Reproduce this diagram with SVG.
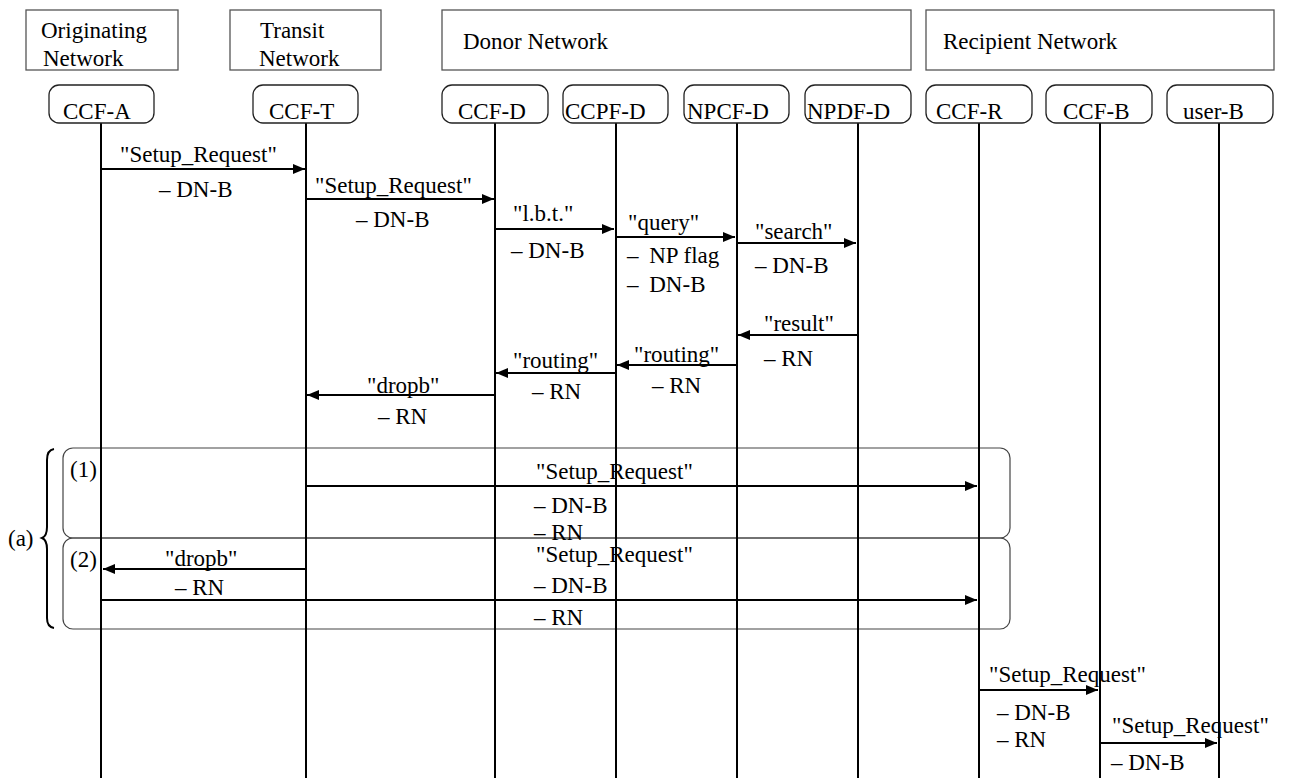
<svg xmlns="http://www.w3.org/2000/svg" width="1291" height="778" viewBox="0 0 1291 778">
<defs>
<marker id="ah" markerUnits="userSpaceOnUse" markerWidth="13" markerHeight="11" refX="12" refY="5" orient="auto"><path d="M0,0 L12,5 L0,10 z" fill="#000"/></marker>
</defs>
<style>
text{font-family:"Liberation Serif","Times New Roman",serif;font-size:23px;fill:#000}
.hdr{fill:#fff;stroke:#555;stroke-width:1.3}
.ll{fill:#fff;stroke:#222;stroke-width:1.3}
.life{stroke:#000;stroke-width:2}
.msg{stroke:#000;stroke-width:2;fill:none;marker-end:url(#ah)}
.alt{fill:none;stroke:#444;stroke-width:1.2}
</style>
<rect width="1291" height="778" fill="#fff"/>

<g id="hdr-originating"><rect class="hdr" x="26" y="10" width="152" height="60"/><text x="41" y="38">Originating</text><text x="43" y="66">Network</text></g>
<g id="hdr-transit"><rect class="hdr" x="230" y="10" width="151" height="60"/><text x="260" y="38">Transit</text><text x="259" y="66">Network</text></g>
<g id="hdr-donor"><rect class="hdr" x="442" y="10" width="469" height="60"/><text x="463" y="49">Donor Network</text></g>
<g id="hdr-recipient"><rect class="hdr" x="926" y="10" width="348" height="60"/><text x="943" y="49">Recipient Network</text></g>

<g id="alt-frames">
<rect class="alt" x="63" y="448" width="947" height="90" rx="10"/>
<rect class="alt" x="63" y="538" width="947" height="91" rx="10"/>
<path d="M54,449 Q47,450 47,460 L47,527 Q47,536 42,538 Q47,540 47,549 L47,618 Q47,627 54,628" fill="none" stroke="#000" stroke-width="2"/>
<text x="8" y="546">(a)</text>
<text x="70" y="477">(1)</text>
<text x="70" y="567">(2)</text>
</g>

<g id="CCF-A"><line class="life" x1="101" y1="123" x2="101" y2="778"/><rect class="ll" x="49" y="85" width="105" height="38" rx="10"/><text x="63" y="119">CCF-A</text></g>
<g id="CCF-T"><line class="life" x1="306" y1="123" x2="306" y2="778"/><rect class="ll" x="253" y="85" width="105" height="38" rx="10"/><text x="269" y="119">CCF-T</text></g>
<g id="CCF-D"><line class="life" x1="495" y1="123" x2="495" y2="778"/><rect class="ll" x="442" y="85" width="106" height="38" rx="10"/><text x="458" y="119">CCF-D</text></g>
<g id="CCPF-D"><line class="life" x1="616" y1="123" x2="616" y2="778"/><rect class="ll" x="563" y="85" width="105" height="38" rx="10"/><text x="565" y="119">CCPF-D</text></g>
<g id="NPCF-D"><line class="life" x1="737" y1="123" x2="737" y2="778"/><rect class="ll" x="684" y="85" width="105" height="38" rx="10"/><text x="687" y="119">NPCF-D</text></g>
<g id="NPDF-D"><line class="life" x1="858" y1="123" x2="858" y2="778"/><rect class="ll" x="805" y="85" width="106" height="38" rx="10"/><text x="807" y="119">NPDF-D</text></g>
<g id="CCF-R"><line class="life" x1="979" y1="123" x2="979" y2="778"/><rect class="ll" x="926" y="85" width="106" height="38" rx="10"/><text x="936" y="119">CCF-R</text></g>
<g id="CCF-B"><line class="life" x1="1100" y1="123" x2="1100" y2="778"/><rect class="ll" x="1046" y="85" width="106" height="38" rx="10"/><text x="1063" y="119">CCF-B</text></g>
<g id="user-B"><line class="life" x1="1219" y1="123" x2="1219" y2="778"/><rect class="ll" x="1167" y="85" width="106" height="38" rx="10"/><text x="1183" y="119">user-B</text></g>

<g id="connectors">
<line class="msg" x1="101" y1="169" x2="305" y2="169"/>
<line class="msg" x1="306" y1="199" x2="494" y2="199"/>
<line class="msg" x1="495" y1="229" x2="614" y2="229"/>
<line class="msg" x1="616" y1="237" x2="735" y2="237"/>
<line class="msg" x1="737" y1="243" x2="856" y2="243"/>
<line class="msg" x1="858" y1="335" x2="738" y2="335"/>
<line class="msg" x1="737" y1="365" x2="617" y2="365"/>
<line class="msg" x1="616" y1="373" x2="496" y2="373"/>
<line class="msg" x1="495" y1="395" x2="307" y2="395"/>
<line class="msg" x1="306" y1="486" x2="977" y2="486"/>
<line class="msg" x1="306" y1="569" x2="103" y2="569"/>
<line class="msg" x1="101" y1="600" x2="977" y2="600"/>
<line class="msg" x1="979" y1="690" x2="1098" y2="690"/>
<line class="msg" x1="1100" y1="743" x2="1217" y2="743"/>
</g>

<g id="labels">
<text x="120" y="162">"Setup_Request"</text>
<text x="159" y="197">– DN-B</text>
<text x="315" y="193">"Setup_Request"</text>
<text x="356" y="227">– DN-B</text>
<text x="513" y="221">"l.b.t."</text>
<text x="511" y="258">– DN-B</text>
<text x="628" y="230">"query"</text>
<text x="627" y="263">– <tspan dx="5">NP flag</tspan></text>
<text x="627" y="292">– <tspan dx="5">DN-B</tspan></text>
<text x="755" y="239">"search"</text>
<text x="755" y="273">– DN-B</text>
<text x="764" y="331">"result"</text>
<text x="764" y="366">– RN</text>
<text x="634" y="362">"routing"</text>
<text x="652" y="393">– RN</text>
<text x="513" y="368">"routing"</text>
<text x="532" y="399">– RN</text>
<text x="367" y="393">"dropb"</text>
<text x="378" y="424">– RN</text>
<text x="536" y="479">"Setup_Request"</text>
<text x="534" y="513">– DN-B</text>
<text x="534" y="540">– RN</text>
<text x="165" y="566">"dropb"</text>
<text x="175" y="595">– RN</text>
<text x="536" y="562">"Setup_Request"</text>
<text x="534" y="593">– DN-B</text>
<text x="534" y="625">– RN</text>
<text x="989" y="682">"Setup_Request"</text>
<text x="997" y="720">– DN-B</text>
<text x="997" y="747">– RN</text>
<text x="1112" y="733">"Setup_Request"</text>
<text x="1111" y="770">– DN-B</text>
</g>
</svg>
